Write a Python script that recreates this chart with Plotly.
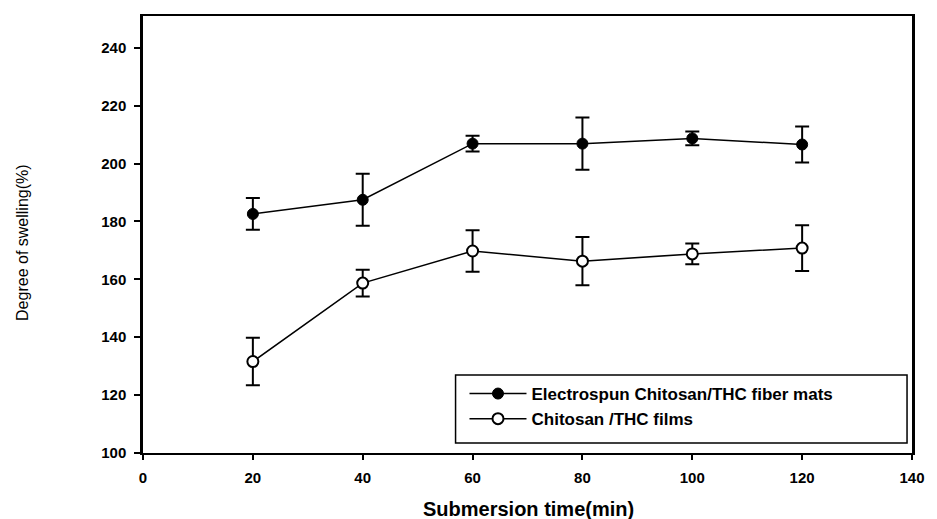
import plotly.graph_objects as go

# Submersion time (min)
time_min = [20, 40, 60, 80, 100, 120]

# Degree of swelling (%) with standard deviations
fiber_mats = [182.6, 187.5, 206.9, 206.9, 208.7, 206.6]
fiber_mats_err = [5.5, 9.0, 2.7, 9.0, 2.4, 6.2]

films = [131.6, 158.7, 169.8, 166.3, 168.8, 170.8]
films_err = [8.2, 4.6, 7.2, 8.3, 3.6, 7.9]

x_ticks = [0, 20, 40, 60, 80, 100, 120, 140]
y_ticks = [100, 120, 140, 160, 180, 200, 220, 240]

FONT = "Arial, Liberation Sans, sans-serif"

# plot area in pixels (for placing the titles and legend frame)
L, R, T, B = 143, 918, 16, 453
W, H = R - L, B - T


def px(xp):
    return (xp - L) / W


def py(yp):
    return (B - yp) / H


fig = go.Figure()

fig.add_trace(go.Scatter(
    x=time_min, y=fiber_mats,
    mode="lines+markers",
    name="Electrospun Chitosan/THC fiber mats",
    line=dict(color="black", width=1.5),
    marker=dict(symbol="circle", size=11, color="black",
                line=dict(color="black", width=1)),
    error_y=dict(type="data", array=fiber_mats_err, visible=True,
                 color="black", thickness=2, width=7),
))

fig.add_trace(go.Scatter(
    x=time_min, y=films,
    mode="lines+markers",
    name="Chitosan /THC films",
    line=dict(color="black", width=1.5),
    marker=dict(symbol="circle", size=11, color="white",
                line=dict(color="black", width=2)),
    error_y=dict(type="data", array=films_err, visible=True,
                 color="black", thickness=2, width=7),
))

fig.update_layout(
    width=937, height=519,
    margin=dict(l=L, r=937 - R, t=T, b=519 - B),
    paper_bgcolor="white",
    plot_bgcolor="white",
    font=dict(family=FONT, color="black"),
    showlegend=True,
    legend=dict(
        x=px(467), y=py(376), xanchor="left", yanchor="top",
        bgcolor="rgba(0,0,0,0)", borderwidth=0,
        font=dict(family=FONT, size=17, color="black", weight="bold"),
        itemwidth=57, tracegroupgap=0,
    ),
    xaxis=dict(
        range=[0, 140], tickvals=x_ticks,
        ticktext=[f"<b>{v}</b>" for v in x_ticks],
        showgrid=False, zeroline=False,
        showline=True, linecolor="black", linewidth=2, mirror=True,
        ticks="outside", ticklen=5, tickwidth=2, tickcolor="black",
        ticklabelstandoff=5,
        tickfont=dict(family=FONT, size=15),
    ),
    yaxis=dict(
        range=[100, 251], tickvals=y_ticks,
        ticktext=[f"<b>{v}</b>" for v in y_ticks],
        showgrid=False, zeroline=False,
        showline=True, linecolor="black", linewidth=2.5, mirror=True,
        ticks="outside", ticklen=6, tickwidth=2, tickcolor="black",
        ticklabelstandoff=5,
        tickfont=dict(family=FONT, size=15),
    ),
    shapes=[
        dict(type="rect", xref="paper", yref="paper",
             x0=px(458), x1=px(913), y0=py(443), y1=py(375),
             line=dict(color="black", width=1.5), fillcolor="rgba(0,0,0,0)",
             layer="below"),
    ],
    annotations=[
        dict(text="<b>Submersion time(min)</b>", xref="paper", yref="paper",
             x=px(532), y=py(509),
             xanchor="center", yanchor="middle", showarrow=False,
             font=dict(family=FONT, size=20)),
        dict(text="Degree of swelling(%)", xref="paper", yref="paper",
             x=px(21), y=py(242),
             xanchor="center", yanchor="middle", showarrow=False,
             textangle=-90,
             font=dict(family=FONT, size=16)),
    ],
)

fig.write_html("out.html")
